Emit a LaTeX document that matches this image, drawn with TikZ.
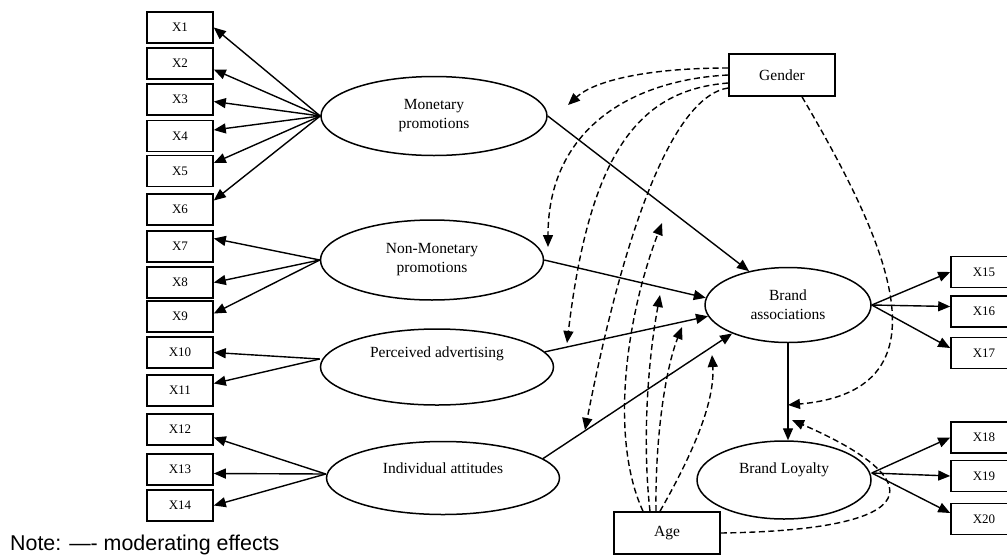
\documentclass[tikz,border=0pt]{standalone}
\usepackage{fontspec}
\setmainfont{Liberation Serif}
\setsansfont{Liberation Sans}
\usepackage{tikz}
\usetikzlibrary{positioning, arrows.meta, shapes.geometric}

\begin{document}
\begin{tikzpicture}[
    x=1pt, y=-1pt,
    >={Triangle[length=12pt, width=10pt]},
    obsbox/.style={rectangle, draw=black, line width=1.6pt, minimum width=66pt, minimum height=31pt, inner sep=0pt, font=\fontsize{13}{15}\selectfont},
    modbox/.style={rectangle, draw=black, line width=1.6pt, minimum width=106pt, minimum height=42pt, inner sep=0pt, font=\fontsize{15.5}{19}\selectfont},
    latent/.style={ellipse, draw=black, line width=1.5pt, inner sep=0pt, align=center, font=\fontsize{15.5}{19}\selectfont},
    latenttext/.style={font=\fontsize{15.5}{19}\selectfont},
    load_edge/.style={->, line width=1.4pt, black},
    path_edge/.style={->, line width=1.4pt, black},
    mod_edge/.style={->, line width=1.4pt, black, dash pattern=on 6pt off 3.5pt},
]
    \useasboundingbox (0,0) rectangle (1007,555);

    % ===== INDICATORS (left) =====
    \node[obsbox] (x1) at (180,27.5) {X1};
    \node[obsbox] (x2) at (180,63.5) {X2};
    \node[obsbox] (x3) at (180,99.5) {X3};
    \node[obsbox] (x4) at (180,136) {X4};
    \node[obsbox] (x5) at (180,171) {X5};
    \node[obsbox] (x6) at (180,209.5) {X6};
    \node[obsbox] (x7) at (180,246.5) {X7};
    \node[obsbox] (x8) at (180,282.5) {X8};
    \node[obsbox] (x9) at (180,316.5) {X9};
    \node[obsbox] (x10) at (180,352.5) {X10};
    \node[obsbox] (x11) at (180,390.5) {X11};
    \node[obsbox] (x12) at (180,429.5) {X12};
    \node[obsbox] (x13) at (180,469.5) {X13};
    \node[obsbox] (x14) at (180,505.5) {X14};

    % ===== INDICATORS (right) =====
    \node[obsbox] (x15) at (984,272) {X15};
    \node[obsbox] (x16) at (984,311.5) {X16};
    \node[obsbox] (x17) at (984,353) {X17};
    \node[obsbox] (x18) at (984,437.5) {X18};
    \node[obsbox] (x19) at (984,476) {X19};
    \node[obsbox] (x20) at (984,519) {X20};

    % ===== CONSTRUCTS =====
    \node[latent, minimum width=226pt, minimum height=79pt] (mp) at (434,116) {Monetary\\promotions};
    \node[latent, minimum width=223pt, minimum height=80pt] (nmp) at (432,260) {Non-Monetary\\promotions};
    \node[latent, minimum width=233pt, minimum height=76pt, label={[latenttext, yshift=13pt]center:Perceived advertising}] (pad) at (437,367) {};
    \node[latent, minimum width=233pt, minimum height=73pt, label={[latenttext, yshift=10pt]center:Individual attitudes}] (ia) at (443,478) {};
    \node[latent, minimum width=166pt, minimum height=75pt] (ba) at (788,305) {Brand\\associations};
    \node[latent, minimum width=174pt, minimum height=78pt, label={[latenttext, yshift=10pt]center:Brand Loyalty}] (bl) at (784,480) {};

    % Moderators
    \node[modbox] (gender) at (782,75) {Gender};
    \node[modbox] (age) at (667,533) {Age};

    % Note
    \node[anchor=base west, inner sep=0pt, font=\sffamily\fontsize{21.4}{24}\selectfont] (note) at (10,550) {Note: —- moderating effects};

    % Edges: loadings
    \draw[load_edge] (mp.west) -- (x1.east);
    \draw[load_edge] (mp.west) -- ([yshift=-6pt]x2.east);
    \draw[load_edge] (mp.west) -- ([yshift=-2pt]x3.east);
    \draw[load_edge] (mp.west) -- ([yshift=6pt]x4.east);
    \draw[load_edge] (mp.west) -- ([yshift=8pt]x5.east);
    \draw[load_edge] (mp.west) -- ([yshift=9pt]x6.east);
    \draw[load_edge] (nmp.west) -- ([yshift=8pt]x7.east);
    \draw[load_edge] (nmp.west) -- (x8.east);
    \draw[load_edge] (nmp.west) -- ([yshift=3pt]x9.east);
    \draw[load_edge] ([yshift=8pt]pad.west) -- (x10.east);
    \draw[load_edge] ([yshift=8pt]pad.west) -- ([yshift=7pt]x11.east);
    \draw[load_edge] ([yshift=4pt]ia.west) -- ([yshift=-8pt]x12.east);
    \draw[load_edge] ([yshift=4pt]ia.west) -- ([yshift=-4pt]x13.east);
    \draw[load_edge] ([yshift=4pt]ia.west) -- (x14.east);
    \draw[load_edge] (ba.east) -- (x15.west);
    \draw[load_edge] (ba.east) -- ([yshift=5pt]x16.west);
    \draw[load_edge] (ba.east) -- ([yshift=5pt]x17.west);
    \draw[load_edge] ([yshift=7pt]bl.east) -- (x18.west);
    \draw[load_edge] ([yshift=7pt]bl.east) -- (x19.west);
    \draw[load_edge] ([yshift=7pt]bl.east) -- ([yshift=6pt]x20.west);

    % Edges: structural paths
    \draw[path_edge] (mp.east) -- (ba.139);
    \draw[path_edge] (nmp.east) -- (ba.175);
    \draw[path_edge] (pad.8) -- (ba.188);
    \draw[path_edge] (ia.11) -- (ba.207);
    \draw[path_edge] (ba.south) -- (ba.south |- bl.north);

    % Edges: moderating effects of gender
    \coordinate (gm1) at (568,105);
    \coordinate (gm2) at (548,247);
    \coordinate (gm3) at (567,343);
    \coordinate (gm4) at (585,430);
    \coordinate (gm5) at (788,405);
    \draw[mod_edge] ([yshift=7pt]gender.west) .. controls (650,68) and (595,80) .. (gm1);
    \draw[mod_edge] (gender.west) .. controls (630,80) and (548,130) .. (gm2);
    \draw[mod_edge] ([yshift=-8pt]gender.west) .. controls (640,90) and (590,150) .. (gm3);
    \draw[mod_edge] ([yshift=-13pt]gender.west) .. controls (680,95) and (630,200) .. (gm4);
    \draw[mod_edge] ([xshift=20pt]gender.south) .. controls (880,230) and (960,390) .. (gm5);

    % Edges: moderating effects of age
    \coordinate (am1) at (662,223);
    \coordinate (am2) at (660,295);
    \coordinate (am3) at (682,327);
    \coordinate (am4) at (712,355);
    \coordinate (am5) at (792,420);
    \draw[mod_edge] ([xshift=-24pt]age.north) .. controls (610,440) and (625,320) .. (am1);
    \draw[mod_edge] ([xshift=-17pt]age.north) .. controls (642,440) and (648,360) .. (am2);
    \draw[mod_edge] ([xshift=-11pt]age.north) .. controls (655,440) and (665,370) .. (am3);
    \draw[mod_edge] ([xshift=-7pt]age.north) .. controls (695,450) and (715,400) .. (am4);
    \draw[mod_edge] (age.east) .. controls (930,530) and (930,480) .. (am5);

\end{tikzpicture}
\end{document}
